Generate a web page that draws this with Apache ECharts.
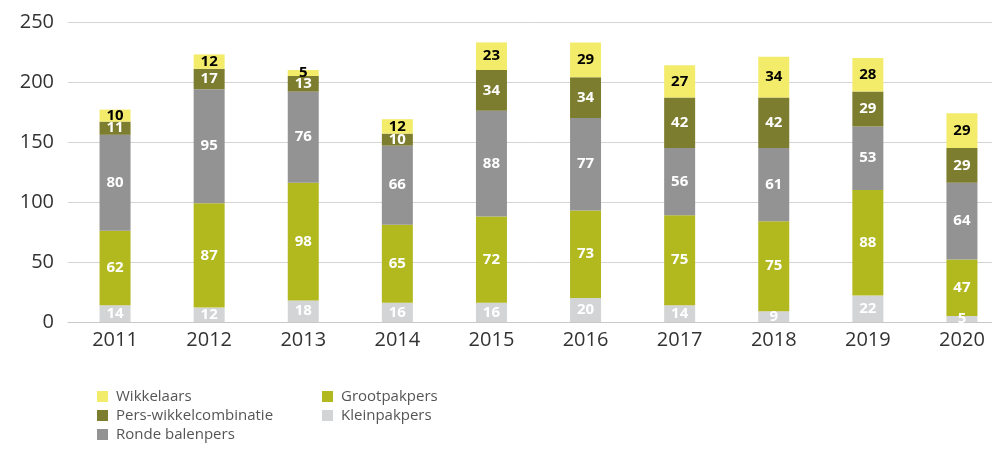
<!DOCTYPE html>
<html>
<head>
<meta charset="utf-8">
<script src="https://cdn.jsdelivr.net/npm/echarts@6/dist/echarts.min.js"></script>
<style>
  html, body { margin: 0; padding: 0; background: #fff; }
  #chart { width: 992px; height: 450px; }
</style>
</head>
<body>
<div id="chart"></div>
<script>
// Years on the x axis
const years = ['2011', '2012', '2013', '2014', '2015', '2016', '2017', '2018', '2019', '2020'];

// Counts per machine type, stacked bottom to top
const kleinpakpers = [14, 12, 18, 16, 16, 20, 14, 9, 22, 5];
const grootpakpers = [62, 87, 98, 65, 72, 73, 75, 75, 88, 47];
const rondeBalenpers = [80, 95, 76, 66, 88, 77, 56, 61, 53, 64];
const persWikkelcombinatie = [11, 17, 13, 10, 34, 34, 42, 42, 29, 29];
const wikkelaars = [10, 12, 5, 12, 23, 29, 27, 34, 28, 29];

const FONT = '"Open Sans", "Noto Sans", sans-serif';

function bar(name, data, color, labelColor) {
  return {
    name: name,
    type: 'bar',
    stack: 'total',
    barWidth: 31,
    data: data,
    itemStyle: { color: color },
    label: {
      show: true,
      position: 'inside',
      color: labelColor,
      fontFamily: FONT,
      fontWeight: 'bold',
      fontSize: 15
    }
  };
}

const legendBase = {
  orient: 'vertical', top: 389, height: 70, itemGap: 4, padding: 0,
  itemWidth: 11, itemHeight: 11, icon: 'rect',
  textStyle: { fontFamily: FONT, fontSize: 15, color: '#555', padding: [0, 0, 0, 3] }
};

const chart = echarts.init(document.getElementById('chart'), null, { renderer: 'canvas' });
chart.setOption({
  animation: false,
  // plot area runs past the right edge so the last column sits close to it
  grid: { left: 68, width: 941, top: 22, bottom: 128, outerBoundsMode: 'none', containLabel: false },
  legend: [
    Object.assign({}, legendBase, {
      left: 97,
      data: ['Wikkelaars', 'Pers-wikkelcombinatie', 'Ronde balenpers']
    }),
    Object.assign({}, legendBase, {
      left: 322,
      data: ['Grootpakpers', 'Kleinpakpers']
    })
  ],
  xAxis: {
    type: 'category',
    data: years,
    axisTick: { show: false },
    axisLine: { lineStyle: { color: '#c8c8c8' } },
    axisLabel: { color: '#333', fontFamily: FONT, fontSize: 20, margin: 8 }
  },
  yAxis: {
    type: 'value',
    min: 0, max: 250, interval: 50,
    axisLine: { show: false },
    axisTick: { show: false },
    splitLine: { lineStyle: { color: '#d4d4d4' } },
    axisLabel: { color: '#333', fontFamily: FONT, fontSize: 20, margin: 14 }
  },
  series: [
    bar('Kleinpakpers', kleinpakpers, '#d3d4d5', '#fff'),
    bar('Grootpakpers', grootpakpers, '#b2b91f', '#fff'),
    bar('Ronde balenpers', rondeBalenpers, '#939393', '#fff'),
    bar('Pers-wikkelcombinatie', persWikkelcombinatie, '#7d7d2f', '#fff'),
    bar('Wikkelaars', wikkelaars, '#f3ec6b', '#000')
  ]
});
</script>
</body>
</html>
